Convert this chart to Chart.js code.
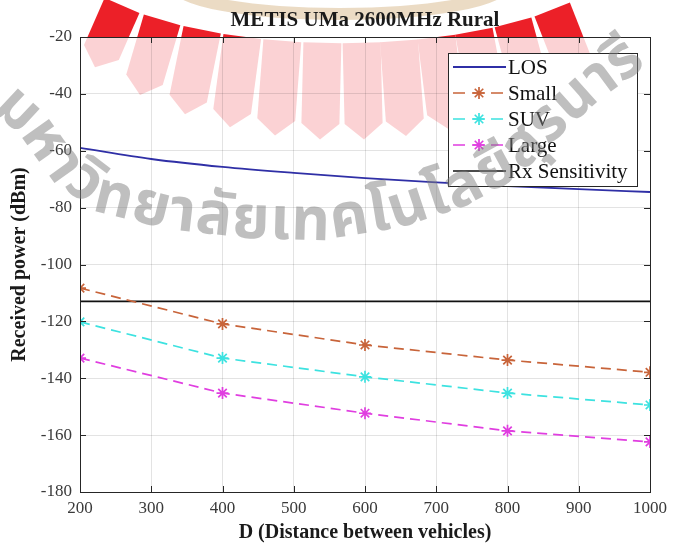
<!DOCTYPE html>
<html>
<head>
<meta charset="utf-8">
<script src="https://cdn.jsdelivr.net/npm/chart.js@4.4.1/dist/chart.umd.min.js"></script>
<style>
  html, body { margin: 0; padding: 0; background: #fff; }
  #wrap { width: 673px; height: 547px; }
</style>
</head>
<body>
<div id="wrap"><canvas id="powerChart"></canvas></div>
<script>
// values (dBm)
var distances = [200, 400, 600, 800, 1000];
var losDistances = [200, 300, 400, 500, 600, 700, 800, 900, 1000];
var losPower = [-59, -62.9, -65.7, -67.8, -69.6, -71.1, -72.4, -73.5, -74.5];
var smallPower = [-108.3, -120.9, -128.3, -133.6, -137.9];
var suvPower = [-120.2, -132.9, -139.5, -145.2, -149.4];
var largePower = [-132.9, -145.2, -152.3, -158.5, -162.4];
var rxDistances = [200, 1000];
var rxPower = [-113, -113];
var seriesNames = ['LOS', 'Small', 'SUV', 'Large', 'Rx Sensitivity'];
var chartTitle = 'METIS UMa 2600MHz Rural';
var xTitle = 'D (Distance between vehicles)';
var yTitle = 'Received power (dBm)';
var watermarkText = 'มหาวิทยาลัยเทคโนโลยีสุรนารี';

var serif = "'Liberation Serif', 'Times New Roman', serif";

function pts(xs, ys) {
  return xs.map(function (x, i) { return { x: x, y: ys[i] }; });
}

// background watermark (logo rays + ring) and text along a curve
function drawLogo(ctx) {
  ctx.save();
  ctx.strokeStyle = 'rgba(210,175,125,0.45)';
  ctx.lineWidth = 12;
  ctx.beginPath();
  ctx.ellipse(340, -16, 165, 30, 0, 0, Math.PI * 2);
  ctx.stroke();

  ctx.fillStyle = 'rgb(236,32,40)';
  var offs = [-247, -202, -157, -112, -67, -22, 22, 64, 106, 148, 192, 236];
  offs.forEach(function (dx) {
    var s = dx / 320, c = Math.sqrt(1 - s * s);
    var ix = 342 + 285 * s, iy = -60 + 103 * c;
    var ox = 342 + dx, oy = -60 + 200 * c;
    var ux = ox - ix, uy = oy - iy, L = Math.hypot(ux, uy);
    ux /= L; uy /= L;
    var px = -uy, py = ux, hw = 19;
    var sx = ox - ux * 16, sy = oy - uy * 16;
    ctx.beginPath();
    ctx.moveTo(ix + px * hw, iy + py * hw);
    ctx.lineTo(sx + px * hw, sy + py * hw);
    ctx.lineTo(ox, oy);
    ctx.lineTo(sx - px * hw, sy - py * hw);
    ctx.lineTo(ix - px * hw, iy - py * hw);
    ctx.closePath();
    ctx.fill();
  });
  ctx.restore();
}

function drawCurvedText(ctx, text, path) {
  ctx.save();
  ctx.font = "bold 60px 'Noto Sans Thai', 'Noto Sans', sans-serif";
  ctx.fillStyle = 'rgba(128,128,128,0.5)';
  ctx.textBaseline = 'middle';
  var segs = [], total = 0;
  for (var i = 1; i < path.length; i++) {
    var dx = path[i][0] - path[i - 1][0], dy = path[i][1] - path[i - 1][1];
    var len = Math.hypot(dx, dy);
    segs.push({ x: path[i - 1][0], y: path[i - 1][1], dx: dx, dy: dy, len: len, start: total });
    total += len;
  }
  var parts = (window.Intl && Intl.Segmenter)
    ? Array.from(new Intl.Segmenter('th', { granularity: 'grapheme' }).segment(text), function (s) { return s.segment; })
    : Array.from(text);
  var widths = parts.map(function (p) { return ctx.measureText(p).width; });
  var sum = widths.reduce(function (a, b) { return a + b; }, 0);
  var k = total / sum, pos = 0;
  parts.forEach(function (p, j) {
    var w = widths[j] * k, mid = pos + w / 2;
    var sg = segs[segs.length - 1];
    for (var q = 0; q < segs.length; q++) {
      if (mid <= segs[q].start + segs[q].len) { sg = segs[q]; break; }
    }
    var t = (mid - sg.start) / sg.len;
    ctx.save();
    ctx.translate(sg.x + sg.dx * t, sg.y + sg.dy * t);
    ctx.rotate(Math.atan2(sg.dy, sg.dx));
    ctx.fillText(p, -widths[j] / 2, 0);
    ctx.restore();
    pos += w;
  });
  ctx.restore();
}

var figurePlugin = {
  id: 'figure',
  beforeDraw: function (chart) {
    var ctx = chart.ctx, a = chart.chartArea;
    ctx.save();
    ctx.fillStyle = '#fff';
    ctx.fillRect(0, 0, chart.width, chart.height);
    drawLogo(ctx);
    ctx.fillStyle = 'rgba(255,255,255,0.8)';
    ctx.fillRect(a.left, a.top, a.right - a.left, a.bottom - a.top);
    ctx.restore();
  },
  afterDraw: function (chart) {
    var ctx = chart.ctx, a = chart.chartArea;
    var xs = chart.scales.x, ys = chart.scales.y;
    ctx.save();
    // axes box with inward ticks
    ctx.strokeStyle = '#262626';
    ctx.lineWidth = 1;
    ctx.strokeRect(Math.round(a.left) + 0.5, Math.round(a.top) + 0.5,
      Math.round(a.right - a.left), Math.round(a.bottom - a.top));
    ctx.beginPath();
    xs.ticks.forEach(function (t) {
      var x = Math.round(xs.getPixelForValue(t.value)) + 0.5;
      ctx.moveTo(x, a.bottom); ctx.lineTo(x, a.bottom - 6);
      ctx.moveTo(x, a.top); ctx.lineTo(x, a.top + 6);
    });
    ys.ticks.forEach(function (t) {
      var y = Math.round(ys.getPixelForValue(t.value)) + 0.5;
      ctx.moveTo(a.left, y); ctx.lineTo(a.left + 6, y);
      ctx.moveTo(a.right, y); ctx.lineTo(a.right - 6, y);
    });
    ctx.stroke();

    // title
    ctx.fillStyle = '#1a1a1a';
    ctx.font = 'bold 21px ' + serif;
    ctx.textAlign = 'center';
    ctx.textBaseline = 'middle';
    ctx.fillText(chartTitle, (a.left + a.right) / 2, 21);

    // legend box
    var bx = a.right - 13 - 189, by = a.top + 16, bw = 189, bh = 133;
    ctx.fillStyle = '#fff';
    ctx.fillRect(bx, by, bw, bh);
    ctx.strokeStyle = '#262626';
    ctx.strokeRect(bx + 0.5, by + 0.5, bw, bh);
    chart.data.datasets.forEach(function (ds, i) {
      var y = by + 14 + i * 26;
      ctx.save();
      ctx.strokeStyle = ds.borderColor;
      ctx.lineWidth = ds.borderWidth;
      ctx.setLineDash(ds.borderDash ? [12, 7] : []);
      ctx.beginPath();
      ctx.moveTo(bx + 5, y); ctx.lineTo(bx + 58, y);
      ctx.stroke();
      ctx.setLineDash([]);
      if (ds.pointRadius > 0) {
        ctx.fillStyle = ds.borderColor;
        Chart.helpers.drawPoint(ctx, {
          pointStyle: ds.pointStyle, radius: ds.pointRadius, rotation: 0,
          borderWidth: ds.pointBorderWidth
        }, bx + 31, y);
      }
      ctx.restore();
      ctx.fillStyle = '#111';
      ctx.font = '21px ' + serif;
      ctx.textAlign = 'left';
      ctx.textBaseline = 'middle';
      ctx.fillText(ds.label, bx + 60, y + 1);
    });
    ctx.restore();

    drawCurvedText(ctx, watermarkText, [
      [0, 100], [30, 128], [60, 170], [100, 200], [170, 217], [250, 226],
      [320, 228], [400, 215], [460, 195], [510, 168], [550, 128], [590, 92], [640, 55]
    ]);
  }
};

var dashed = [10, 6];
var ctx = document.getElementById('powerChart').getContext('2d');
var powerChart = new Chart(ctx, {
  type: 'line',
  data: {
    datasets: [
      {
        label: seriesNames[0], data: pts(losDistances, losPower),
        borderColor: '#2f2fa6', borderWidth: 1.8, pointRadius: 0,
        cubicInterpolationMode: 'monotone'
      },
      {
        label: seriesNames[1], data: pts(distances, smallPower),
        borderColor: '#c8643a', borderWidth: 1.7, borderDash: dashed,
        pointStyle: 'star', pointRadius: 6, pointBorderWidth: 1.7
      },
      {
        label: seriesNames[2], data: pts(distances, suvPower),
        borderColor: '#3de2e0', borderWidth: 1.7, borderDash: dashed,
        pointStyle: 'star', pointRadius: 6, pointBorderWidth: 1.7
      },
      {
        label: seriesNames[3], data: pts(distances, largePower),
        borderColor: '#e03ee0', borderWidth: 1.7, borderDash: dashed,
        pointStyle: 'star', pointRadius: 6, pointBorderWidth: 1.7
      },
      {
        label: seriesNames[4], data: pts(rxDistances, rxPower),
        borderColor: '#111111', borderWidth: 1.7, pointRadius: 0
      }
    ]
  },
  options: {
    responsive: true,
    maintainAspectRatio: false,
    animation: false,
    devicePixelRatio: 1,
    layout: { padding: { left: 0, right: 19, top: 37, bottom: 0 } },
    plugins: {
      legend: { display: false },
      tooltip: { enabled: false },
      title: { display: false }
    },
    scales: {
      x: {
        type: 'linear', min: 200, max: 1000,
        ticks: {
          stepSize: 100, color: '#3a3a3a', padding: 6,
          font: { family: serif, size: 17 },
          callback: function (v) { return String(v); }
        },
        grid: { color: 'rgba(38,38,38,0.13)', drawTicks: false },
        border: { display: false },
        title: {
          display: true, text: xTitle, color: '#1a1a1a',
          font: { family: serif, size: 20, weight: 'bold' }, padding: { top: 0, bottom: 2 }
        },
        afterFit: function (s) { s.height = 55; }
      },
      y: {
        min: -180, max: -20,
        ticks: {
          stepSize: 20, color: '#3a3a3a', padding: 8,
          font: { family: serif, size: 17 }
        },
        grid: { color: 'rgba(38,38,38,0.13)', drawTicks: false },
        border: { display: false },
        title: {
          display: true, text: yTitle, color: '#1a1a1a',
          font: { family: serif, size: 20, weight: 'bold' }, padding: { top: 8, bottom: 0 }
        },
        afterFit: function (s) { s.width = 80; }
      }
    }
  },
  plugins: [figurePlugin]
});
</script>
</body>
</html>
